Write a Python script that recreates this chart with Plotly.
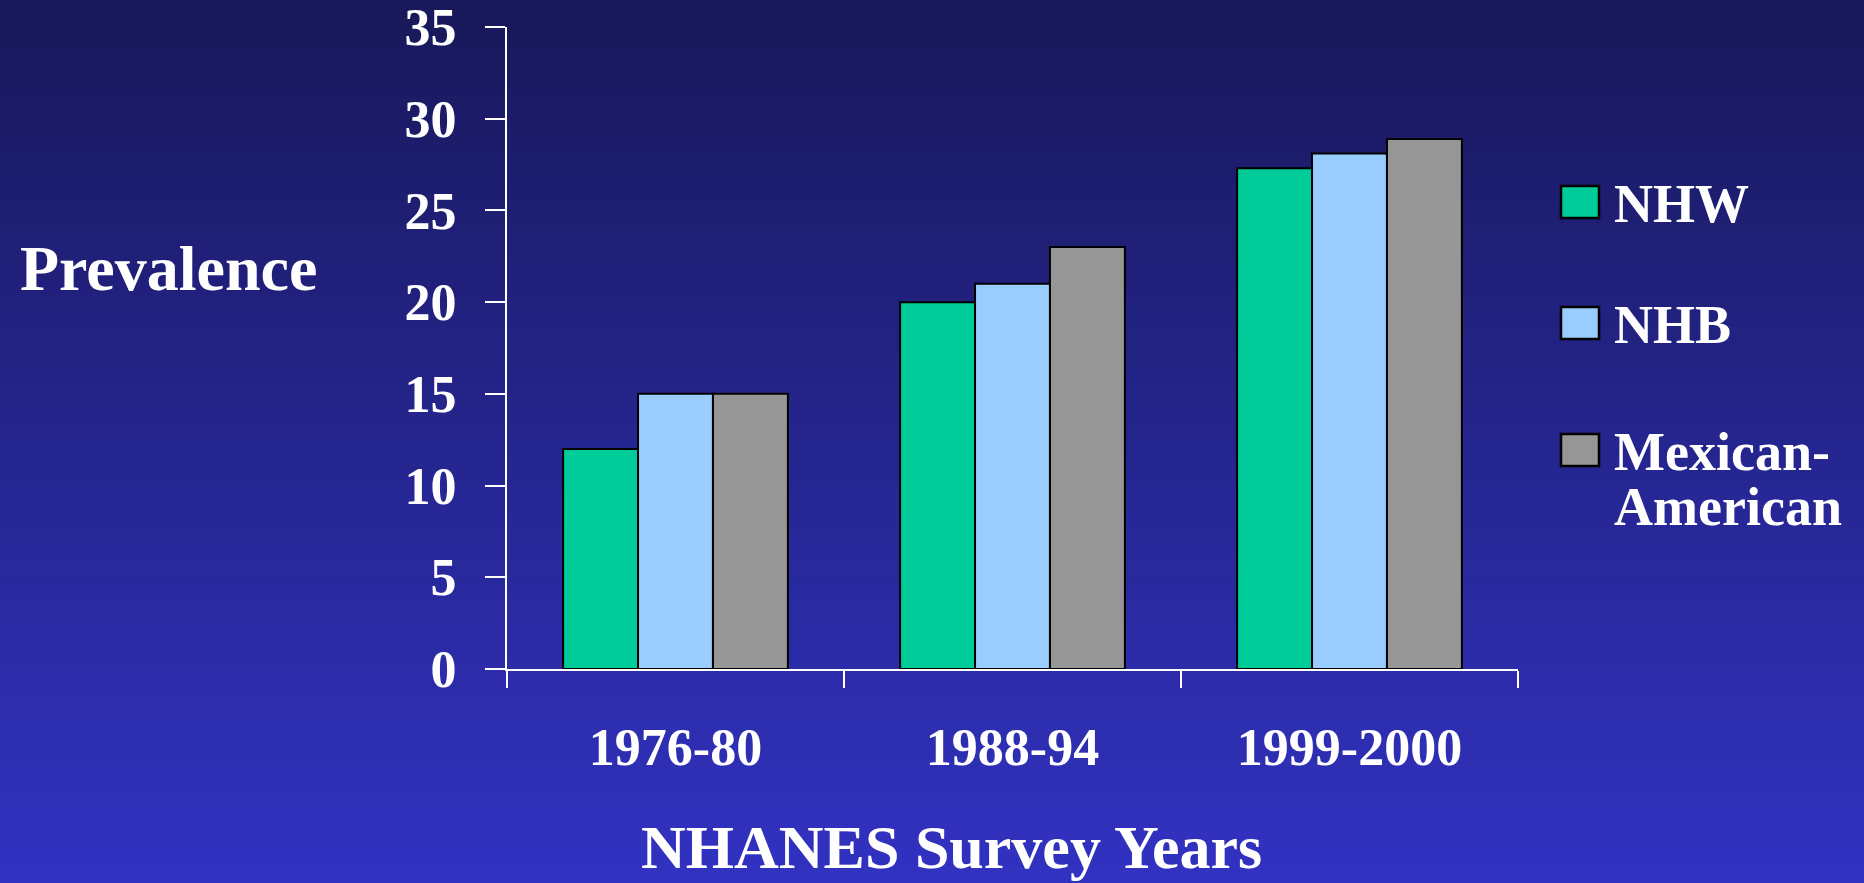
import base64
import plotly.graph_objects as go

# ---- data ----
categories = ["1976-80", "1988-94", "1999-2000"]
series_names = ["NHW", "NHB", "Mexican-American"]
nhw = [12, 20, 27.3]
nhb = [15, 21, 28.1]
mexican_american = [15, 23, 28.9]
series_values = [nhw, nhb, mexican_american]
series_colors = ["#00CC99", "#99CCFF", "#969696"]
y_tick_values = [0, 5, 10, 15, 20, 25, 30, 35]

# ---- layout constants (pixels) ----
W, H = 1864, 883
L, R, T, B = 507, 346, 27, 214
PW, PH = W - L - R, H - T - B
FONT = "Liberation Serif, Times New Roman, serif"
WHITE = "#FFFFFF"
TOP_RGB = (24, 24, 90)
BOT_RGB = (50, 50, 194)


def px_to_paper(px, py):
    return (px - L) / PW, (H - B - py) / PH


fig = go.Figure()
for name, vals, col in zip(series_names, series_values, series_colors):
    fig.add_trace(go.Bar(
        x=categories, y=vals, name=name,
        marker=dict(color=col, line=dict(color="#000000", width=2)),
        showlegend=False,
    ))

# background gradient (decorative): stripes as fallback + SVG gradient image on top
shapes = []
n = 100
for i in range(n):
    f = i / (n - 1)
    c = tuple(int(round(TOP_RGB[k] + (BOT_RGB[k] - TOP_RGB[k]) * f)) for k in range(3))
    py0 = i * H / n - 1
    py1 = (i + 1) * H / n + 2
    x0, y0 = px_to_paper(-5, py0)
    x1, y1 = px_to_paper(W + 5, py1)
    shapes.append(dict(type="rect", xref="paper", yref="paper", x0=x0, x1=x1, y0=y0, y1=y1,
                       fillcolor="rgb(%d,%d,%d)" % c, line=dict(width=0), layer="below"))

svg = (
    '<svg xmlns="http://www.w3.org/2000/svg" width="%d" height="%d" preserveAspectRatio="none">'
    '<defs><linearGradient id="g" x1="0" y1="0" x2="0" y2="1">'
    '<stop offset="0" stop-color="rgb(%d,%d,%d)"/><stop offset="1" stop-color="rgb(%d,%d,%d)"/>'
    '</linearGradient></defs><rect width="100%%" height="100%%" fill="url(#g)"/></svg>'
) % ((W, H) + TOP_RGB + BOT_RGB)
svg_uri = "data:image/svg+xml;base64," + base64.b64encode(svg.encode()).decode()
ix0, iy0 = px_to_paper(-2, -2)
ix1, iy1 = px_to_paper(W + 2, H + 2)
images = [dict(source=svg_uri, xref="paper", yref="paper", x=ix0, y=iy0,
               sizex=ix1 - ix0, sizey=iy0 - iy1, xanchor="left", yanchor="top",
               sizing="stretch", layer="below")]

annotations = []
# custom legend (large swatches)
legend_centers = [202, 323, 450]
sw_w, sw_h = 38, 32
sw_x0 = 1561
text_x = 1612
for name, col, cy in zip(series_names, series_colors, legend_centers):
    x0, y0 = px_to_paper(sw_x0, cy + sw_h / 2)
    x1, y1 = px_to_paper(sw_x0 + sw_w, cy - sw_h / 2)
    shapes.append(dict(type="rect", xref="paper", yref="paper", x0=x0, x1=x1, y0=y0, y1=y1,
                       fillcolor=col, line=dict(color="#000000", width=2.5)))
    if "-" in name:
        first, second = name.split("-", 1)
        lines = [first + "-", second]
    else:
        lines = [name]
    for j, line in enumerate(lines):
        ax, ay = px_to_paper(text_x, cy + 2 + j * 55)
        annotations.append(dict(text="<b>" + line + "</b>", x=ax, y=ay, xref="paper", yref="paper",
                                xanchor="left", yanchor="middle", showarrow=False,
                                font=dict(family=FONT, size=54, color=WHITE)))

# y "title"
ax, ay = px_to_paper(18, 268)
annotations.append(dict(text="<b>Prevalence</b>", x=ax, y=ay, xref="paper", yref="paper",
                        xanchor="left", yanchor="middle", showarrow=False,
                        font=dict(family=FONT, size=64, color=WHITE)))
# x title
ax, ay = px_to_paper(951, 847)
annotations.append(dict(text="<b>NHANES Survey Years</b>", x=ax, y=ay, xref="paper", yref="paper",
                        xanchor="center", yanchor="middle", showarrow=False,
                        font=dict(family=FONT, size=62, color=WHITE)))

fig.update_layout(
    width=W, height=H,
    margin=dict(l=L, r=R, t=T, b=B, pad=0, autoexpand=False),
    paper_bgcolor="#24248c", plot_bgcolor="rgba(0,0,0,0)",
    barmode="group", bargap=0.333, bargroupgap=0,
    shapes=shapes, annotations=annotations, images=images,
    font=dict(family=FONT, color=WHITE),
    showlegend=False,
)
fig.update_xaxes(
    type="category", showgrid=False, zeroline=False, automargin=False,
    showline=True, linecolor=WHITE, linewidth=2,
    ticks="outside", tickson="boundaries", ticklen=17, tickwidth=2, tickcolor=WHITE,
    tickfont=dict(family=FONT, size=52, color=WHITE),
    tickvals=categories, ticktext=["<b>%s</b>" % c for c in categories],
    ticklabelstandoff=32,
)
fig.update_yaxes(
    range=[0, 35], tickvals=y_tick_values, ticktext=["<b>%d</b>" % v for v in y_tick_values],
    showgrid=False, zeroline=False, automargin=False,
    showline=True, linecolor=WHITE, linewidth=2,
    ticks="outside", ticklen=20, tickwidth=2, tickcolor=WHITE,
    tickfont=dict(family=FONT, size=52, color=WHITE),
    ticklabelstandoff=18, ticklabeloverflow="allow",
)

fig.write_html(
    "out.html",
    config={"displayModeBar": False},
    post_script="document.body.style.margin='0';document.body.style.overflow='hidden';",
)
